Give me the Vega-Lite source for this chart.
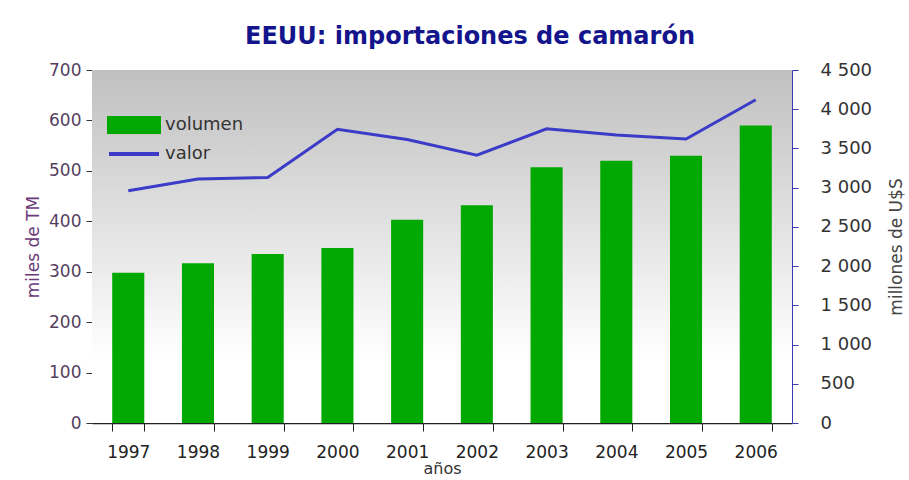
{
  "$schema": "https://vega.github.io/schema/vega-lite/v6.json",
  "width": 700,
  "height": 353,
  "autosize": {"type": "none"},
  "padding": {"left": 92, "top": 70, "right": 117, "bottom": 57},
  "background": "white",
  "title": {
    "text": "EEUU: importaciones de camarón",
    "font": "DejaVu Sans",
    "fontSize": 24,
    "fontWeight": "bold",
    "color": "#14148c",
    "offset": 12,
    "anchor": "middle",
    "dx": 28
  },
  "config": {"view": {"stroke": null}, "font": "DejaVu Sans"},
  "data": {
    "values": [
      {"anio": "1997", "volumen": 298, "valor": 2960},
      {"anio": "1998", "volumen": 317, "valor": 3110},
      {"anio": "1999", "volumen": 335, "valor": 3130},
      {"anio": "2000", "volumen": 347, "valor": 3745},
      {"anio": "2001", "volumen": 403, "valor": 3615},
      {"anio": "2002", "volumen": 432, "valor": 3415},
      {"anio": "2003", "volumen": 507, "valor": 3750},
      {"anio": "2004", "volumen": 520, "valor": 3670},
      {"anio": "2005", "volumen": 530, "valor": 3620},
      {"anio": "2006", "volumen": 590, "valor": 4120}
    ]
  },
  "layer": [
    {
      "data": {"values": [{}]},
      "mark": {
        "type": "rect",
        "fill": {
          "gradient": "linear",
          "x1": 0, "y1": 0, "x2": 0, "y2": 1,
          "stops": [
            {"offset": 0, "color": "#c0c0c0"},
            {"offset": 0.82, "color": "#ffffff"}
          ]
        }
      },
      "encoding": {}
    },
    {
      "mark": {"type": "bar"},
      "encoding": {
        "x": {
          "field": "anio",
          "type": "nominal",
          "scale": {"paddingInner": 0.54, "paddingOuter": 0.29},
          "axis": {
            "title": "años",
            "labelAngle": 0,
            "labelFontSize": 17,
            "labelColor": "#222222",
            "labelPadding": 13,
            "tickBand": "extent",
            "tickSize": 8,
            "tickColor": "#222222",
            "domainColor": "#222222",
            "domainWidth": 1.5,
            "titleFontSize": 16,
            "titleFontWeight": "normal",
            "titleColor": "#333333",
            "titlePadding": 0
          }
        },
        "y": {
          "field": "volumen",
          "type": "quantitative",
          "scale": {"domain": [0, 700], "nice": false},
          "axis": {
            "orient": "left",
            "title": "miles de TM",
            "values": [0, 100, 200, 300, 400, 500, 600, 700],
            "grid": false,
            "labelFontSize": 17,
            "labelColor": "#55405f",
            "labelPadding": 5,
            "tickSize": 6,
            "tickColor": "#333333",
            "domainColor": "#333333",
            "titleFontSize": 17,
            "titleFontWeight": "normal",
            "titleColor": "#6a3a7a",
            "titlePadding": 6
          }
        },
        "color": {
          "datum": "volumen",
          "type": "nominal",
          "scale": {"domain": ["volumen", "valor"], "range": ["#00a800", "#3b3bc8"]},
          "legend": {
            "title": null,
            "orient": "none",
            "legendX": 30,
            "legendY": 43,
            "symbolSize": 400,
            "labelFontSize": 18,
            "labelColor": "#333333",
            "labelOffset": 19,
            "rowPadding": 2,
            "padding": 0,
            "encode": {
              "symbols": {
                "update": {
                  "shape": {"signal": "datum.value === 'volumen' ? 'M-2.5,-0.7H2.5V0.7H-2.5Z' : 'M-2.5,0H2.5'"},
                  "fill": {"signal": "datum.value === 'volumen' ? '#00a800' : 'transparent'"},
                  "stroke": {"signal": "datum.value === 'volumen' ? 'transparent' : '#3b3bc8'"},
                  "strokeWidth": {"value": 4},
                  "opacity": {"value": 1}
                }
              }
            }
          }
        }
      }
    },
    {
      "mark": {"type": "line", "strokeWidth": 3},
      "encoding": {
        "x": {"field": "anio", "type": "nominal"},
        "y": {
          "field": "valor",
          "type": "quantitative",
          "scale": {"domain": [0, 4500], "nice": false},
          "axis": {
            "orient": "right",
            "title": "millones de U$S",
            "values": [0, 500, 1000, 1500, 2000, 2500, 3000, 3500, 4000, 4500],
            "labelExpr": "replace(format(datum.value, ','), ',', ' ')",
            "grid": false,
            "labelFontSize": 18,
            "labelColor": "#333333",
            "labelPadding": 22,
            "tickSize": 6,
            "tickColor": "#3b3bb0",
            "domainColor": "#3b3bb0",
            "titleFontSize": 17,
            "titleFontWeight": "normal",
            "titleColor": "#444444",
            "titleAngle": 270,
            "titlePadding": 34
          }
        },
        "color": {"datum": "valor", "type": "nominal"}
      }
    }
  ],
  "resolve": {"scale": {"y": "independent"}}
}
